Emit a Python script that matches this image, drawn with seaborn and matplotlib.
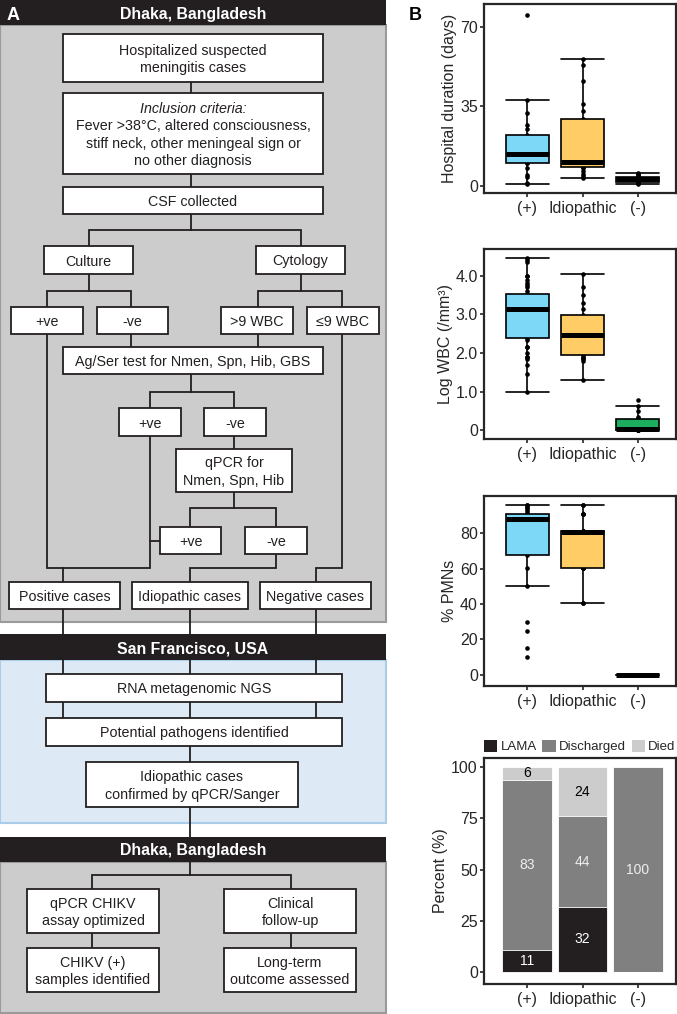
import matplotlib
matplotlib.use("Agg")
import matplotlib.pyplot as plt
from matplotlib.patches import Rectangle, Patch
import numpy as np
import pandas as pd
import seaborn as sns

# ---------------- data ----------------
groups = ["(+)", "Idiopathic", "(-)"]

hosp_pos = [1, 1.5, 4, 5, 8, 10, 10, 12, 13, 14, 14, 15, 18, 20, 22, 22.5, 25, 27, 32, 38, 75]
hosp_idio = [3.7, 4.5, 5.5, 6.5, 8, 8.5, 9, 9.5, 10, 10.3, 10.7, 14, 18, 22, 26, 29.3, 33, 36, 46, 53, 56]
hosp_neg = [1, 1.5, 1.5, 2, 2, 2, 2.5, 2.5, 3, 3, 3, 3, 3.5, 3.5, 4, 4, 4, 4.5, 5, 5.5, 6]

wbc_pos = [1.0, 1.45, 1.7, 1.85, 1.9, 1.9, 2.0, 2.15, 2.15, 2.35, 2.39,
           2.5, 2.6, 2.7, 2.8, 2.9, 3.0, 3.05, 3.1, 3.12, 3.15,
           3.2, 3.25, 3.3, 3.35, 3.4, 3.45, 3.48, 3.5, 3.52, 3.53,
           3.6, 3.7, 3.75, 3.8, 3.9, 4.0, 4.0, 4.35, 4.4, 4.47]
wbc_idio = [1.3, 1.8, 1.85, 1.88, 1.9, 1.94, 2.1, 2.2, 2.3, 2.4, 2.48,
            2.6, 2.7, 2.8, 2.9, 2.98, 3.15, 3.3, 3.5, 3.72, 4.05]
wbc_neg = [0, 0, 0, 0, 0, 0, 0, 0, 0.02, 0.04, 0.05, 0.1, 0.15, 0.2, 0.25, 0.3,
           0.32, 0.35, 0.5, 0.63, 0.8]

pmn_pos = [10, 15, 25, 30, 50.4, 60.5, 67.9, 70, 75, 80, 84, 86, 88,
           88.5, 89, 89.5, 90, 90.5, 90.8, 92, 93, 94, 95, 95.8, 95.8]
pmn_idio = [40.4, 40.4, 60.5, 60.5, 60.5, 60.5, 65, 70, 75, 78, 80.5,
            80.7, 81, 81, 81.2, 81.5, 91, 91, 91, 95.8, 95.8]
pmn_neg = [0, 0, 0, 0, 0, 0, 0, 0, 0, 0]

outcome_names = ["LAMA", "Discharged", "Died"]
lama = [11, 32, 0]
discharged = [83, 44, 100]
died = [6, 24, 0]

# ---------------- style ----------------
sns.set_style("ticks")
plt.rcParams["font.family"] = ["Liberation Sans", "DejaVu Sans"]
plt.rcParams["axes.linewidth"] = 1.6

W, H = 677, 1014
fig = plt.figure(figsize=(W / 100, H / 100), dpi=100)

bg = fig.add_axes([0, 0, 1, 1])
bg.set_xlim(0, W)
bg.set_ylim(H, 0)
bg.axis("off")

DARK = "#231f20"
FS = 10.3


def rect(x0, y0, x1, y1, fc, ec="none", lw=0, z=1):
    bg.add_patch(Rectangle((x0, y0), x1 - x0, y1 - y0, facecolor=fc,
                           edgecolor=ec, linewidth=lw, zorder=z))


def box(x0, y0, x1, y1, lines, italic_first=False, pitch=17.2):
    rect(x0, y0, x1, y1, "white", DARK, 1.3, z=3)
    n = len(lines)
    cy = (y0 + y1) / 2
    for i, l in enumerate(lines):
        y = cy + (i - (n - 1) / 2) * pitch
        st = "italic" if (italic_first and i == 0) else "normal"
        bg.text((x0 + x1) / 2, y, l, ha="center", va="center_baseline",
                fontsize=FS, style=st, color=DARK, zorder=4)


def path(*pts):
    xs, ys = zip(*pts)
    bg.plot(xs, ys, color=DARK, lw=1.3, zorder=2, solid_capstyle="projecting",
            solid_joinstyle="miter")


def header(y0, y1, text):
    rect(0, y0, 386, y1, DARK, z=3)
    bg.text(193, (y0 + y1) / 2, text, ha="center", va="center_baseline",
            fontsize=11.4, fontweight="bold", color="white", zorder=4)


# ---------------- panel A ----------------
rect(0, 25, 386, 622, "#cccccc", "#9a9a9a", 1.5, z=0.5)
rect(0, 660, 386, 823, "#ddeaf6", "#a9cde9", 1.5, z=0.5)
rect(0, 862, 386, 1013, "#cccccc", "#9a9a9a", 1.5, z=0.5)
header(0, 25, "Dhaka, Bangladesh")
header(634, 660, "San Francisco, USA")
header(837, 862, "Dhaka, Bangladesh")
bg.text(13, 13, "A", ha="center", va="center_baseline", fontsize=13,
        fontweight="bold", color="white", zorder=5)
bg.text(415, 13, "B", ha="center", va="center_baseline", fontsize=13,
        fontweight="bold", color="black", zorder=5)

box(63, 34, 323, 82, ["Hospitalized suspected", "meningitis cases"])
box(63, 93, 323, 174, ["Inclusion criteria:", "Fever >38°C, altered consciousness,",
                       "stiff neck, other meningeal sign or", "no other diagnosis"],
    italic_first=True, pitch=17.4)
box(63, 187, 323, 214, ["CSF collected"])
path((191, 82), (191, 93))
path((191, 174), (191, 187))
path((191, 214), (191, 230))
path((89, 246), (89, 230), (301, 230), (301, 246))
box(44, 246, 133, 274, ["Culture"])
box(256, 246, 345, 274, ["Cytology"])
path((89, 274), (89, 291))
path((47, 307), (47, 291), (131, 291), (131, 307))
path((301, 274), (301, 291))
path((258, 307), (258, 291), (342, 291), (342, 307))
box(11, 307, 83, 334, ["+ve"])
box(97, 307, 168, 334, ["-ve"])
box(221, 307, 293, 334, [">9 WBC"])
box(307, 307, 379, 334, ["≤9 WBC"])
path((131, 334), (131, 347))
path((258, 334), (258, 347))
box(63, 347, 323, 374, ["Ag/Ser test for Nmen, Spn, Hib, GBS"])
path((191, 374), (191, 392))
path((150, 408), (150, 392), (234, 392), (234, 408))
box(119, 408, 181, 436, ["+ve"])
box(204, 408, 266, 436, ["-ve"])
path((234, 436), (234, 449))
box(176, 449, 292, 492, ["qPCR for", "Nmen, Spn, Hib"])
path((234, 492), (234, 508))
path((190, 527), (190, 508), (276, 508), (276, 527))
box(160, 527, 221, 554, ["+ve"])
box(245, 527, 307, 554, ["-ve"])
path((47, 334), (47, 568), (150, 568), (150, 436))
path((150, 541), (160, 541))
path((63, 568), (63, 582))
path((276, 554), (276, 568), (190, 568), (190, 582))
path((342, 334), (342, 568), (316, 568), (316, 582))
box(9, 582, 120, 609, ["Positive cases"])
box(132, 582, 248, 609, ["Idiopathic cases"])
box(260, 582, 371, 609, ["Negative cases"])
for xx in (63, 190, 316):
    path((xx, 609), (xx, 634))
    path((xx, 660), (xx, 674))
    path((xx, 702), (xx, 718))
box(46, 674, 342, 702, ["RNA metagenomic NGS"])
box(46, 718, 342, 746, ["Potential pathogens identified"])
path((190, 746), (190, 762))
box(86, 762, 298, 807, ["Idiopathic cases", "confirmed by qPCR/Sanger"])
path((190, 807), (190, 837))
path((190, 862), (190, 875))
path((92, 889), (92, 875), (291, 875), (291, 889))
box(27, 889, 159, 933, ["qPCR CHIKV", "assay optimized"])
box(224, 889, 356, 933, ["Clinical", "follow-up"])
path((92, 933), (92, 948))
path((291, 933), (291, 948))
box(27, 948, 159, 992, ["CHIKV (+)", "samples identified"])
box(224, 948, 356, 992, ["Long-term", "outcome assessed"])

# ---------------- panel B ----------------
def ax_rect(x0, y0, x1, y1):
    return fig.add_axes([x0 / W, 1 - y1 / H, (x1 - x0) / W, (y1 - y0) / H])


pal = {"(+)": "#7dd7f7", "Idiopathic": "#ffcc66", "(-)": "#1cad5f"}
TFS = 11.5


def style_axes(ax, ylabel):
    ax.set_xlabel("")
    ax.set_ylabel(ylabel, fontsize=TFS, labelpad=2)
    ax.tick_params(axis="y", labelsize=TFS, length=3, width=1.2, pad=1.5)
    ax.tick_params(axis="x", labelsize=TFS, length=3, width=1.2, pad=2.5)
    for s in ax.spines.values():
        s.set_visible(True)
        s.set_linewidth(1.6)


def boxchart(ax, lists, ylabel, ylim, yticks, yticklabels):
    df = pd.DataFrame({
        "group": np.repeat(groups, [len(d) for d in lists]),
        "value": np.concatenate([np.asarray(d, float) for d in lists]),
    })
    sns.stripplot(data=df, x="group", y="value", order=groups, jitter=False,
                  color="black", size=3.3, ax=ax, zorder=0.5)
    kw = dict(data=df, x="group", y="value", hue="group", order=groups,
              hue_order=groups, palette=pal, width=0.78, linewidth=1.2,
              linecolor="black", showfliers=False, saturation=1,
              medianprops=dict(linewidth=3.6, color="black"),
              legend=False, dodge=False, ax=ax)
    try:
        sns.boxplot(capwidths=0.78, **kw)
    except TypeError:
        sns.boxplot(**kw)
    ax.set_xlim(-0.78, 2.68)
    ax.set_ylim(*ylim)
    ax.set_yticks(yticks)
    ax.set_yticklabels(yticklabels)
    style_axes(ax, ylabel)


ax1 = ax_rect(484, 4, 675.5, 193)
boxchart(ax1, [hosp_pos, hosp_idio, hosp_neg], "Hospital duration (days)",
         (-3, 80), [0, 35, 70], ["0", "35", "70"])
ax2 = ax_rect(484, 249, 675.5, 439)
boxchart(ax2, [wbc_pos, wbc_idio, wbc_neg], "Log WBC (/mm³)",
         (-0.22, 4.69), [0, 1, 2, 3, 4], ["0", "1.0", "2.0", "3.0", "4.0"])
ax3 = ax_rect(484, 496, 675.5, 686)
boxchart(ax3, [pmn_pos, pmn_idio, pmn_neg], "% PMNs",
         (-6.3, 101), [0, 20, 40, 60, 80], ["0", "20", "40", "60", "80"])

ax4 = ax_rect(484, 758, 675.5, 984)
cum_dis = [a + b for a, b in zip(lama, discharged)]
total = [a + b for a, b in zip(cum_dis, died)]
seg_colors = ["#231f20", "#808080", "#cccccc"]
for heights, col in zip([total, cum_dis, lama], seg_colors[::-1]):
    sns.barplot(x=groups, y=heights, order=groups, color=col, width=0.9,
                saturation=1, errorbar=None, edgecolor="white", linewidth=0.6,
                ax=ax4)
label_cols = ["white", "#eeeeee", "black"]
for i in range(len(groups)):
    bottoms = [0, lama[i], cum_dis[i]]
    for val, b, lc in zip([lama[i], discharged[i], died[i]], bottoms, label_cols):
        if val > 0:
            ax4.text(i, b + val / 2, str(val), ha="center", va="center",
                     fontsize=10, color=lc)
ax4.set_xlim(-0.78, 2.68)
ax4.set_ylim(-5.7, 104.5)
ax4.set_yticks([0, 25, 50, 75, 100])
style_axes(ax4, "Percent (%)")
handles = [Patch(facecolor=c, edgecolor="none") for c in seg_colors]
ax4.legend(handles, outcome_names, ncol=3, loc="lower left",
           bbox_to_anchor=(0, 1.02, 1, 0.07), mode="expand", frameon=False,
           handlelength=1.0, handleheight=1.0, handletextpad=0.25,
           columnspacing=0.8, fontsize=9.5, borderaxespad=0, borderpad=0)

fig.savefig("out.png", dpi=100)
